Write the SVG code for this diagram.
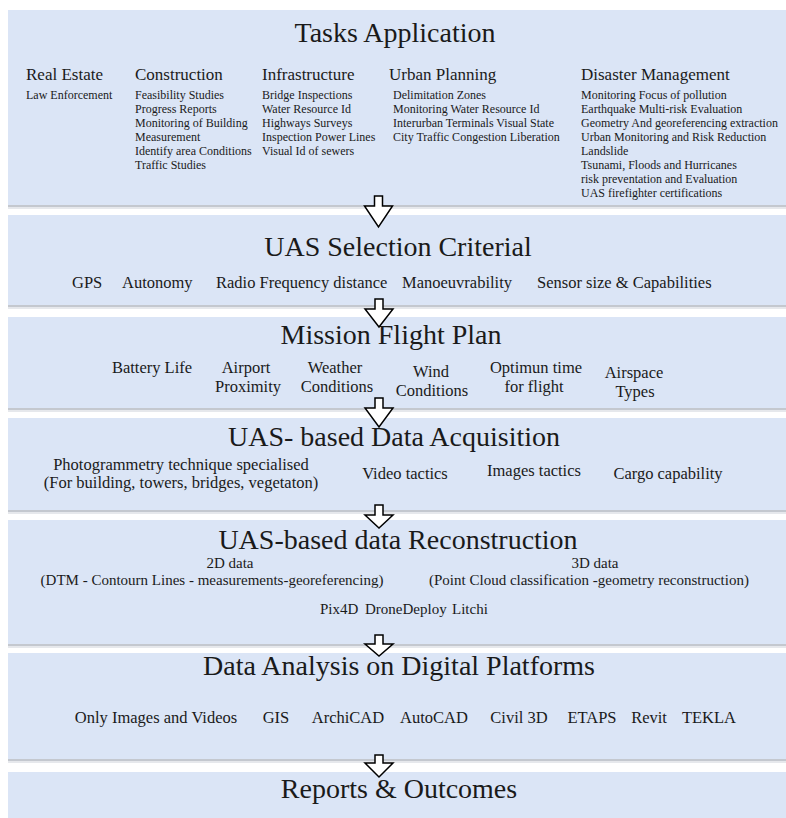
<svg xmlns="http://www.w3.org/2000/svg" width="786" height="818" viewBox="0 0 786 818">
<style>
.box{fill:#dbe5f6}
.sh1{fill:#c4c8cf}
.sh2{fill:#e6e8ec}
text{font-family:"Liberation Serif","Times New Roman",serif;fill:#1a1a1a}
.title{font-size:28px;text-anchor:middle}
.hd{font-size:17px}
.it{font-size:12px}
.row{font-size:16.5px}
.mid{text-anchor:middle}
.sm{font-size:15px}
.arrow{fill:#ffffff;stroke:#000000;stroke-width:1.5;stroke-linejoin:miter}
</style>
<rect width="786" height="818" fill="#ffffff"/>

<g id="tasks-application">
<rect class="box" x="8" y="10" width="778" height="195"/>
<rect class="sh1" x="8" y="205" width="778" height="2"/>
<rect class="sh2" x="8" y="207" width="778" height="2"/>
<text class="title" x="395" y="42">Tasks Application</text>
<text class="hd" x="26" y="80">Real Estate</text>
<text class="it" x="26" y="99">Law Enforcement</text>
<text class="hd" x="135" y="80">Construction</text>
<text class="it" x="135" y="99">Feasibility Studies</text>
<text class="it" x="135" y="113">Progress Reports</text>
<text class="it" x="135" y="127">Monitoring of Building</text>
<text class="it" x="135" y="141">Measurement</text>
<text class="it" x="135" y="155">Identify area Conditions</text>
<text class="it" x="135" y="169">Traffic Studies</text>
<text class="hd" x="262" y="80">Infrastructure</text>
<text class="it" x="262" y="99">Bridge Inspections</text>
<text class="it" x="262" y="113">Water Resource Id</text>
<text class="it" x="262" y="127">Highways Surveys</text>
<text class="it" x="262" y="141">Inspection Power Lines</text>
<text class="it" x="262" y="155">Visual Id of sewers</text>
<text class="hd" x="389" y="80">Urban Planning</text>
<text class="it" x="393" y="99">Delimitation Zones</text>
<text class="it" x="393" y="113">Monitoring Water Resource Id</text>
<text class="it" x="393" y="127">Interurban Terminals Visual State</text>
<text class="it" x="393" y="141">City Traffic Congestion Liberation</text>
<text class="hd" x="581" y="80">Disaster Management</text>
<text class="it" x="581" y="99">Monitoring Focus of pollution</text>
<text class="it" x="581" y="113">Earthquake Multi-risk Evaluation</text>
<text class="it" x="581" y="127">Geometry And georeferencing extraction</text>
<text class="it" x="581" y="141">Urban Monitoring and Risk Reduction</text>
<text class="it" x="581" y="155">Landslide</text>
<text class="it" x="581" y="169">Tsunami, Floods and Hurricanes</text>
<text class="it" x="581" y="183">risk preventation and Evaluation</text>
<text class="it" x="581" y="197">UAS firefighter certifications</text>
</g>

<g id="uas-selection-criterial">
<rect class="box" x="8" y="215" width="778" height="90"/>
<rect class="sh1" x="8" y="305" width="778" height="2"/>
<rect class="sh2" x="8" y="307" width="778" height="2"/>
<text class="title" x="398" y="256">UAS Selection Criterial</text>
<text class="row" x="72" y="288">GPS</text>
<text class="row" x="122" y="288">Autonomy</text>
<text class="row" x="216" y="288">Radio Frequency distance</text>
<text class="row" x="402" y="288">Manoeuvrability</text>
<text class="row" x="537" y="288">Sensor size &amp; Capabilities</text>
</g>

<g id="mission-flight-plan">
<rect class="box" x="8" y="317" width="778" height="91"/>
<rect class="sh1" x="8" y="408" width="778" height="2"/>
<rect class="sh2" x="8" y="410" width="778" height="2"/>
<text class="title" x="391" y="344">Mission Flight Plan</text>
<text class="row mid" x="152" y="373">Battery Life</text>
<text class="row mid" x="246" y="373">Airport</text>
<text class="row mid" x="248" y="392">Proximity</text>
<text class="row mid" x="335" y="373">Weather</text>
<text class="row mid" x="337" y="392">Conditions</text>
<text class="row mid" x="431" y="377">Wind</text>
<text class="row mid" x="432" y="396">Conditions</text>
<text class="row mid" x="536" y="373">Optimun time</text>
<text class="row mid" x="534" y="392">for flight</text>
<text class="row mid" x="634" y="378">Airspace</text>
<text class="row mid" x="635" y="397">Types</text>
</g>

<g id="uas-data-acquisition">
<rect class="box" x="8" y="418" width="778" height="92"/>
<rect class="sh1" x="8" y="510" width="778" height="2"/>
<rect class="sh2" x="8" y="512" width="778" height="2"/>
<text class="title" x="394" y="446">UAS- based Data Acquisition</text>
<text class="row mid" x="181" y="470">Photogrammetry technique specialised</text>
<text class="row mid" x="181" y="488">(For building, towers, bridges, vegetaton)</text>
<text class="row mid" x="405" y="479">Video tactics</text>
<text class="row mid" x="534" y="476">Images tactics</text>
<text class="row mid" x="668" y="479">Cargo capability</text>
</g>

<g id="uas-data-reconstruction">
<rect class="box" x="8" y="520" width="778" height="124"/>
<rect class="sh1" x="8" y="644" width="778" height="2"/>
<rect class="sh2" x="8" y="646" width="778" height="2"/>
<text class="title" x="398" y="549">UAS-based data Reconstruction</text>
<text class="sm mid" x="230" y="568">2D data</text>
<text class="sm mid" x="212" y="585">(DTM - Contourn Lines - measurements-georeferencing)</text>
<text class="sm mid" x="595" y="568">3D data</text>
<text class="sm mid" x="589" y="585">(Point Cloud classification -geometry reconstruction)</text>
<text class="sm" x="320" y="614">Pix4D</text>
<text class="sm" x="365" y="614">DroneDeploy</text>
<text class="sm" x="452" y="614">Litchi</text>
</g>

<g id="data-analysis">
<rect class="box" x="8" y="653" width="778" height="106"/>
<rect class="sh1" x="8" y="759" width="778" height="2"/>
<rect class="sh2" x="8" y="761" width="778" height="2"/>
<text class="title" x="399" y="675">Data Analysis on Digital Platforms</text>
<text class="row mid" x="156" y="723">Only Images and Videos</text>
<text class="row mid" x="276" y="723">GIS</text>
<text class="row mid" x="348" y="723">ArchiCAD</text>
<text class="row mid" x="434" y="723">AutoCAD</text>
<text class="row mid" x="519" y="723">Civil 3D</text>
<text class="row mid" x="592" y="723">ETAPS</text>
<text class="row mid" x="649" y="723">Revit</text>
<text class="row mid" x="709" y="723">TEKLA</text>
</g>

<g id="reports-outcomes">
<rect class="box" x="8" y="772" width="778" height="46"/>
<text class="title" x="399" y="798">Reports &amp; Outcomes</text>
</g>

<g id="connectors">
<path class="arrow" d="M374.5,196 H382.5 V206 H392.5 L378.5,227 L364.5,206 H374.5 Z"/>
<path class="arrow" d="M375,299 H383 V309 H393 L379,327 L365,309 H375 Z"/>
<path class="arrow" d="M375,398 H383 V408 H393 L379,427 L365,408 H375 Z"/>
<path class="arrow" d="M375,505 H383 V515 H393 L379,528 L365,515 H375 Z"/>
<path class="arrow" d="M375,635 H383 V644 H393 L379,656 L365,644 H375 Z"/>
<path class="arrow" d="M375,755 H383 V763 H393 L379,777 L365,763 H375 Z"/>
</g>
</svg>
